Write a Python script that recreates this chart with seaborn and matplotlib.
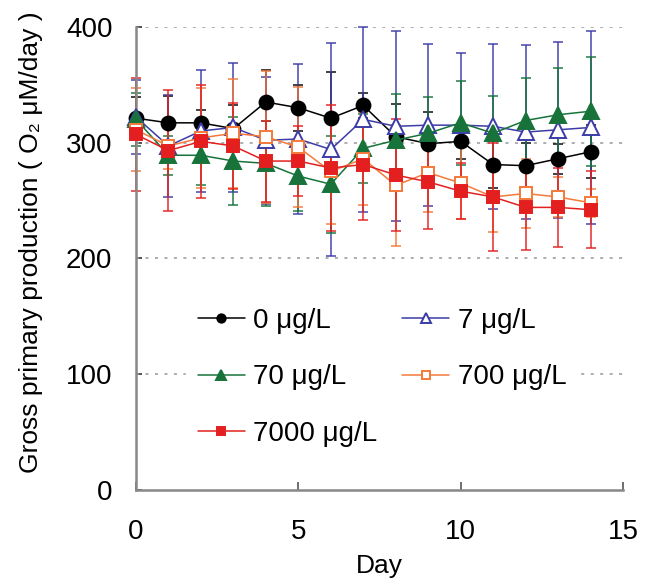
import matplotlib
matplotlib.use("Agg")
import matplotlib.pyplot as plt
import seaborn as sns
import pandas as pd
import numpy as np

days = list(range(15))
labels = ["0 μg/L", "7 μg/L", "70 μg/L", "700 μg/L", "7000 μg/L"]

mean_0 = [321, 317, 317, 312, 335, 330, 321, 332, 305, 299, 301, 281, 280, 286, 292]
err_0 = [18, 23, 11, 20, 28, 20, 40, 11, 28, 27, 15, 20, 20, 13, 23]
mean_7 = [322, 297, 310, 313, 302, 303, 294, 320, 314, 315, 315, 314, 309, 311, 313]
err_7 = [32, 44, 53, 56, 55, 65, 92, 80, 82, 70, 62, 71, 75, 76, 83]
mean_70 = [320, 289, 289, 284, 282, 271, 264, 295, 302, 308, 317, 308, 319, 324, 327]
err_70 = [23, 17, 26, 38, 37, 30, 42, 30, 40, 31, 36, 32, 37, 40, 47]
mean_700 = [311, 297, 304, 308, 305, 296, 275, 286, 263, 274, 265, 253, 256, 253, 248]
err_700 = [36, 20, 43, 47, 57, 52, 45, 40, 52, 34, 31, 30, 30, 17, 12]
mean_7000 = [307, 293, 301, 297, 284, 284, 278, 281, 272, 266, 258, 253, 244, 244, 242]
err_7000 = [49, 52, 49, 37, 35, 30, 54, 48, 48, 41, 24, 47, 37, 34, 33]

y_ticks = [0, 100, 200, 300, 400]
x_ticks = [0, 5, 10, 15]

means = [mean_0, mean_7, mean_70, mean_700, mean_7000]
errs = [err_0, err_7, err_70, err_700, err_7000]

sns.set_theme(style="white")
plt.rcParams['font.family'] = ['Liberation Sans', 'DejaVu Sans']
plt.rcParams['text.color'] = 'black'
plt.rcParams['axes.labelcolor'] = 'black'
plt.rcParams['xtick.labelcolor'] = 'black'
plt.rcParams['ytick.labelcolor'] = 'black'

colors = ['#000000', '#3c3ca8', '#17733a', '#f5793a', '#e3201f']
markers = ['o', '^', '^', 's', 's']
msizes = [10, 11, 11, 9, 9]
faces = ['#000000', 'white', '#17733a', 'white', '#e3201f']

fig = plt.figure(figsize=(6.5, 5.81), dpi=100)
ax = fig.add_axes([136/650, 1-490/581, (623-136)/650, (490-26.7)/581])

for m, e, c in zip(means, errs, colors):
    ax.errorbar(days, m, yerr=e, fmt='none', ecolor=c, elinewidth=1.3,
                capsize=3.6, capthick=1.3, alpha=0.8, zorder=2, clip_on=False)

handles = []
for lab, m, c, mk, ms, fc in zip(labels, means, colors, markers, msizes, faces):
    df = pd.DataFrame({'day': days, 'value': m})
    sns.lineplot(data=df, x='day', y='value', ax=ax, color=c, marker=mk,
                 markersize=ms, markerfacecolor=fc, markeredgecolor=c,
                 markeredgewidth=1.4, linewidth=1.1, label=lab, zorder=3,
                 clip_on=False, legend=False)
    handles.append(ax.lines[-1])

ax.set_xlim(0, 15)
ax.set_ylim(0, 400)
ax.set_xticks(x_ticks)
ax.set_yticks(y_ticks)
for yv in y_ticks[1:]:
    ax.axhline(yv, color='#999999', linewidth=1.1, linestyle=(0, (2, 4.2)), zorder=1)

for s in ['top', 'right']:
    ax.spines[s].set_visible(False)
for s in ['left', 'bottom']:
    ax.spines[s].set_color('#888888')
    ax.spines[s].set_linewidth(1.8)

ax.tick_params(axis='y', direction='in', length=4, width=1.2, color='#333333',
               labelsize=20, pad=17, left=True)
ax.tick_params(axis='x', direction='in', length=6, width=1.2, color='#555555',
               labelsize=20, pad=21, bottom=True)

ax.set_xlabel('Day', fontsize=19, labelpad=6)
ax.set_ylabel('Gross primary production ( O₂ μM/day )', fontsize=19)
ax.yaxis.set_label_coords(-0.19, 0.535)

order = [0, 2, 4, 1, 3]
leg = ax.legend([handles[i] for i in order], [labels[i] for i in order],
                ncol=2, loc='center', bbox_to_anchor=(0.505, 0.243),
                fontsize=20, markerscale=0.6, handlelength=1.7, handletextpad=0.3,
                labelspacing=1.1, columnspacing=0.9, frameon=True,
                facecolor='white', edgecolor='white', framealpha=1, borderpad=0.4)

fig.savefig('out.png', dpi=100)
